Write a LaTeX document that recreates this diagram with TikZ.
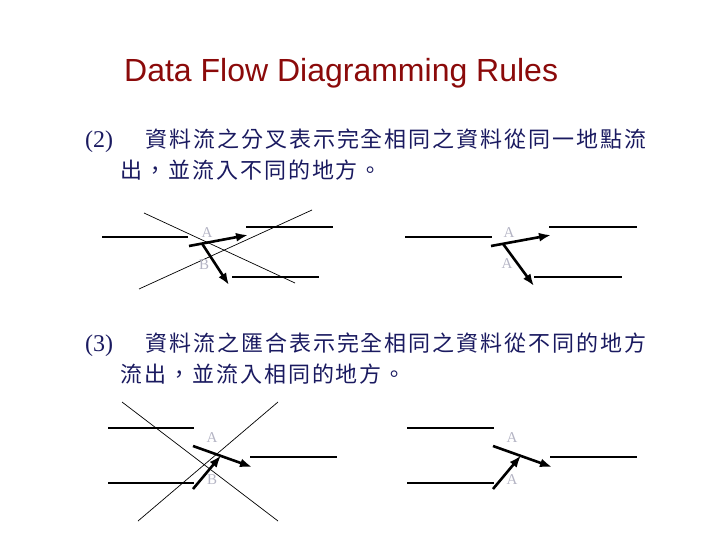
\documentclass[tikz,border=0pt]{standalone}
\usepackage{fontspec}
\setmainfont{Liberation Sans}
\newfontfamily\cjk[LetterSpace=9]{Noto Sans CJK TC}
\newfontfamily\lblfont{Liberation Serif}
\usetikzlibrary{arrows.meta}
\definecolor{titlered}{HTML}{8B0A0A}
\definecolor{navy}{HTML}{1A1A60}
\definecolor{lblgray}{HTML}{B4B4C4}
\begin{document}
\begin{tikzpicture}[x=1pt,y=-1pt,
  store/.style={line width=1.2pt},
  guide/.style={line width=0.7pt},
  flow/.style={line width=2.6pt,-{Latex[length=12pt,width=9pt]}},
  lbl/.style={text=lblgray,font=\lblfont\fontsize{15}{15}\selectfont,inner sep=0pt},
  cjktext/.style={text=navy,font=\cjk\fontsize{22}{22}\selectfont,inner sep=0pt,anchor=base west},
  numtext/.style={text=navy,font=\lblfont\fontsize{24}{24}\selectfont,inner sep=0pt,anchor=base west}]
\useasboundingbox (0,0) rectangle (720,540);
% title
\node[anchor=base west,inner sep=0pt,text=titlered,font=\fontsize{32}{32}\selectfont] (title) at (124,82) {Data Flow Diagramming Rules};
% section 2 text
\node[numtext] (n2num) at (85,148) {(2)};
\node[cjktext] (n2a) at (145,148) {資料流之分叉表示完全相同之資料從同一地點流};
\node[cjktext] (n2b) at (120,179) {出，並流入不同的地方。};
% section 3 text
\node[numtext] (n3num) at (85,351) {(3)};
\node[cjktext] (n3a) at (145,351) {資料流之匯合表示完全相同之資料從不同的地方};
\node[cjktext] (n3b) at (120,382) {流出，並流入相同的地方。};

% ---------- upper left: split, different data
\coordinate (ul-s1a) at (102,237); \coordinate (ul-s1b) at (188,237);
\coordinate (ul-s2a) at (246,227); \coordinate (ul-s2b) at (333,227);
\coordinate (ul-s3a) at (232,277); \coordinate (ul-s3b) at (319,277);
\draw[store] (ul-s1a) -- (ul-s1b);
\draw[store] (ul-s2a) -- (ul-s2b);
\draw[store] (ul-s3a) -- (ul-s3b);
\coordinate (ul-d1a) at (144,213); \coordinate (ul-d1b) at (295,283);
\coordinate (ul-d2a) at (139,289); \coordinate (ul-d2b) at (312,210);
\draw[guide] (ul-d1a) -- (ul-d1b);
\draw[guide] (ul-d2a) -- (ul-d2b);
\coordinate (ul-f1a) at (189,246); \coordinate (ul-f1b) at (248,235);
\coordinate (ul-j) at (202,243.5); \coordinate (ul-f2b) at (229,285);
\draw[flow] (ul-f1a) -- (ul-f1b);
\draw[flow] (ul-j) -- (ul-f2b);
\node[lbl] (ul-A) at (207,233) {A};
\node[lbl] (ul-B) at (204,265) {B};

% ---------- upper right: split, same data
\coordinate (ur-s1a) at (405,237); \coordinate (ur-s1b) at (492,237);
\coordinate (ur-s2a) at (549,227); \coordinate (ur-s2b) at (637,227);
\coordinate (ur-s3a) at (534,277); \coordinate (ur-s3b) at (622,277);
\draw[store] (ur-s1a) -- (ur-s1b);
\draw[store] (ur-s2a) -- (ur-s2b);
\draw[store] (ur-s3a) -- (ur-s3b);
\coordinate (ur-f1a) at (491,246); \coordinate (ur-f1b) at (551,235);
\coordinate (ur-j) at (503,243.8); \coordinate (ur-f2b) at (534,286);
\draw[flow] (ur-f1a) -- (ur-f1b);
\draw[flow] (ur-j) -- (ur-f2b);
\node[lbl] (ur-A1) at (509,233) {A};
\node[lbl] (ur-A2) at (507,264) {A};

% ---------- lower left: join, different data
\coordinate (ll-s1a) at (108,428); \coordinate (ll-s1b) at (194,428);
\coordinate (ll-s2a) at (108,483); \coordinate (ll-s2b) at (194,483);
\coordinate (ll-s3a) at (250,457); \coordinate (ll-s3b) at (337,457);
\draw[store] (ll-s1a) -- (ll-s1b);
\draw[store] (ll-s2a) -- (ll-s2b);
\draw[store] (ll-s3a) -- (ll-s3b);
\coordinate (ll-d1a) at (122,402); \coordinate (ll-d1b) at (278,521);
\coordinate (ll-d2a) at (138,521); \coordinate (ll-d2b) at (278,402);
\draw[guide] (ll-d1a) -- (ll-d1b);
\draw[guide] (ll-d2a) -- (ll-d2b);
\coordinate (ll-f1a) at (193,446); \coordinate (ll-f1b) at (252,467);
\coordinate (ll-f2a) at (193,489); \coordinate (ll-j) at (221,455.5);
\draw[flow] (ll-f1a) -- (ll-f1b);
\draw[flow] (ll-f2a) -- (ll-j);
\node[lbl] (ll-A) at (212,438) {A};
\node[lbl] (ll-B) at (212,480) {B};

% ---------- lower right: join, same data
\coordinate (lr-s1a) at (407,428); \coordinate (lr-s1b) at (494,428);
\coordinate (lr-s2a) at (407,483); \coordinate (lr-s2b) at (494,483);
\coordinate (lr-s3a) at (550,457); \coordinate (lr-s3b) at (637,457);
\draw[store] (lr-s1a) -- (lr-s1b);
\draw[store] (lr-s2a) -- (lr-s2b);
\draw[store] (lr-s3a) -- (lr-s3b);
\coordinate (lr-f1a) at (493,446); \coordinate (lr-f1b) at (552,467);
\coordinate (lr-f2a) at (493,489); \coordinate (lr-j) at (521,455.5);
\draw[flow] (lr-f1a) -- (lr-f1b);
\draw[flow] (lr-f2a) -- (lr-j);
\node[lbl] (lr-A1) at (512,438) {A};
\node[lbl] (lr-A2) at (512,480) {A};
\end{tikzpicture}
\end{document}
